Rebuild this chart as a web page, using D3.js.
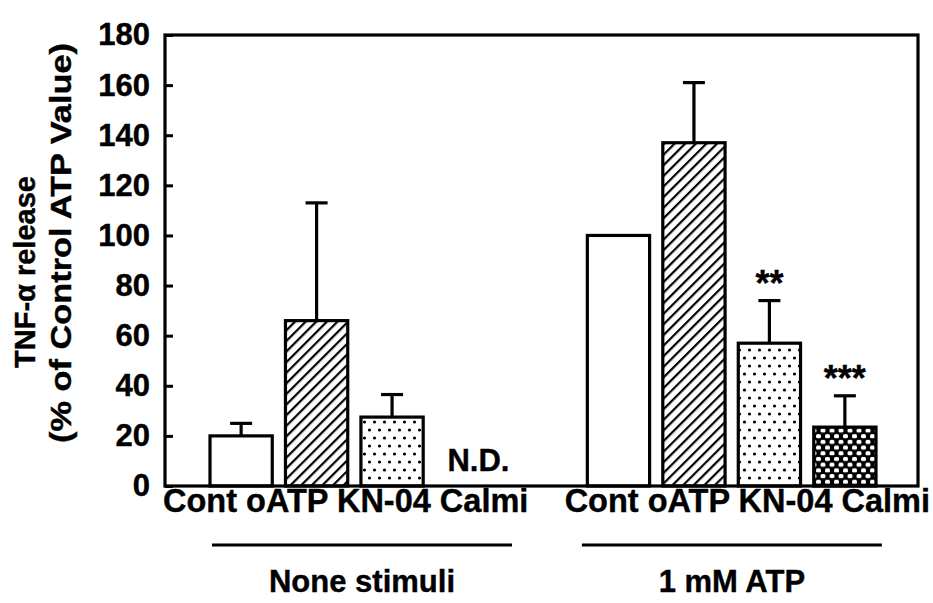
<!DOCTYPE html>
<html>
<head>
<meta charset="utf-8">
<script src="https://cdn.jsdelivr.net/npm/d3@7"></script>
<style>
  html, body { margin: 0; padding: 0; background: #fff; }
  svg { display: block; font-family: "Liberation Sans", Arial, Helvetica, sans-serif; font-weight: bold; }
  svg text { stroke: #000; stroke-width: 0.4px; }
</style>
</head>
<body>
<svg id="chart" width="933" height="603"></svg>
<script>
// Treatments within each condition
const categories = ["Cont", "oATP", "KN-04", "Calmi"];
const groups = ["None stimuli", "1 mM ATP"];

// TNF-α release, % of control ATP value (mean and SD)
const noneMeans = [20, 66, 27.5, null];   // Calmi not detected
const noneSD    = [5, 47, 9, null];
const atpMeans  = [100, 137, 57, 23.5];
const atpSD     = [0, 24, 17, 12.5];
const atpSignif = ["", "", "**", "***"];

const yTicks = [0, 20, 40, 60, 80, 100, 120, 140, 160, 180];

const svg = d3.select("#chart");
const frame = { left: 165, right: 918, top: 35, bottom: 486 };

const y = d3.scaleLinear().domain([0, 180]).range([frame.bottom, frame.top]);

// one slot per bar, with an empty slot separating the two conditions
const nSlots = groups.length * categories.length + groups.length - 1;
const x = d3.scaleBand().domain(d3.range(nSlots)).range([210, 876])
  .paddingInner(0.175).paddingOuter(0);

const bars = [];
categories.forEach((c, i) => {
  bars.push({ group: 0, cat: i, slot: i, mean: noneMeans[i], sd: noneSD[i], sig: "" });
});
categories.forEach((c, i) => {
  bars.push({ group: 1, cat: i, slot: categories.length + 1 + i, mean: atpMeans[i], sd: atpSD[i], sig: atpSignif[i] });
});

// fill patterns
const defs = svg.append("defs");
const hatch = defs.append("pattern").attr("id", "hatch").attr("patternUnits", "userSpaceOnUse")
  .attr("width", 7.5).attr("height", 7.5).attr("patternTransform", "rotate(45)");
hatch.append("rect").attr("width", 7.5).attr("height", 7.5).attr("fill", "#fff");
hatch.append("line").attr("x1", 0).attr("y1", 0).attr("x2", 0).attr("y2", 7.5)
  .attr("stroke", "#000").attr("stroke-width", 4.4);

const dots = defs.append("pattern").attr("id", "dots").attr("patternUnits", "userSpaceOnUse")
  .attr("width", 10).attr("height", 16).attr("x", 212).attr("y", 2);
dots.append("rect").attr("width", 10).attr("height", 16).attr("fill", "#fff");
dots.append("circle").attr("cx", 2.5).attr("cy", 4).attr("r", 1.6).attr("fill", "#000");
dots.append("circle").attr("cx", 7.5).attr("cy", 12).attr("r", 1.6).attr("fill", "#000");

const dense = defs.append("pattern").attr("id", "dense").attr("patternUnits", "userSpaceOnUse")
  .attr("width", 9).attr("height", 11.4).attr("x", 815).attr("y", 0);
dense.append("rect").attr("width", 9).attr("height", 11.4).attr("fill", "#000");
dense.append("rect").attr("x", 1).attr("y", 1).attr("width", 5).attr("height", 4).attr("rx", 1.5).attr("fill", "#fff");
dense.append("rect").attr("x", 5.5).attr("y", 6.7).attr("width", 5).attr("height", 4).attr("rx", 1.5).attr("fill", "#fff");
dense.append("rect").attr("x", -3.5).attr("y", 6.7).attr("width", 5).attr("height", 4).attr("rx", 1.5).attr("fill", "#fff");

const fills = ["#fff", "url(#hatch)", "url(#dots)", "url(#dense)"];

// bars
const drawn = bars.filter(d => d.mean != null);
svg.append("g").selectAll("rect").data(drawn).join("rect")
  .attr("x", d => x(d.slot)).attr("width", x.bandwidth())
  .attr("y", d => y(d.mean)).attr("height", d => y(0) - y(d.mean))
  .attr("fill", d => fills[d.cat])
  .attr("stroke", "#000").attr("stroke-width", 3.2);

// upper error bars
const eb = svg.append("g").attr("stroke", "#000").attr("stroke-width", 3.2);
drawn.filter(d => d.sd > 0).forEach(d => {
  const cx = x(d.slot) + x.bandwidth() / 2;
  eb.append("line").attr("x1", cx).attr("x2", cx).attr("y1", y(d.mean)).attr("y2", y(d.mean + d.sd));
  eb.append("line").attr("x1", cx - 11).attr("x2", cx + 11).attr("y1", y(d.mean + d.sd)).attr("y2", y(d.mean + d.sd));
});

// significance marks
svg.append("g").selectAll("text").data(drawn.filter(d => d.sig)).join("text")
  .attr("x", d => x(d.slot) + x.bandwidth() / 2)
  .attr("y", d => y(d.mean + d.sd) - 5)
  .attr("text-anchor", "middle").attr("font-size", 36)
  .text(d => d.sig);

// not-detected note
bars.filter(d => d.mean == null).forEach(d => {
  svg.append("text").attr("x", x(d.slot) + 11).attr("y", y(0) - 15)
    .attr("font-size", 31).text("N.D.");
});

// frame
svg.append("rect").attr("x", frame.left).attr("y", frame.top)
  .attr("width", frame.right - frame.left).attr("height", frame.bottom - frame.top)
  .attr("fill", "none").attr("stroke", "#000").attr("stroke-width", 3.2);

// y axis with inward ticks
const yAxis = svg.append("g").attr("transform", `translate(${frame.left},0)`)
  .call(d3.axisLeft(y).tickValues(yTicks).tickSize(-8).tickPadding(15));
yAxis.select(".domain").remove();
yAxis.selectAll(".tick line").attr("stroke", "#000").attr("stroke-width", 3);
yAxis.selectAll(".tick text").attr("font-size", 31).attr("font-family", null)
  .attr("font-weight", "bold").attr("fill", "#000");

// y title
svg.append("text").attr("transform", "translate(35,272) rotate(-90)")
  .attr("text-anchor", "middle").attr("font-size", 29).text("TNF-α release");
svg.append("text").attr("transform", "translate(71,243) rotate(-90)")
  .attr("text-anchor", "middle").attr("font-size", 30)
  .attr("textLength", 400).attr("lengthAdjust", "spacingAndGlyphs")
  .text("(% of Control ATP Value)");

// category labels under each condition
const catLine = categories.join(" ");
svg.append("text").attr("x", x(0) - 47).attr("y", 512)
  .attr("font-size", 32.5).text(catLine);
svg.append("text").attr("x", x(nSlots - 1) + x.bandwidth() + 54).attr("y", 512)
  .attr("text-anchor", "end").attr("font-size", 32.5).text(catLine);

// condition brackets and names
const groupMid = [x(0) + 152, x(nSlots - 1) + x.bandwidth() / 2 - 113];
groups.forEach((g, gi) => {
  const mid = groupMid[gi];
  svg.append("line").attr("x1", mid - 150).attr("x2", mid + 150).attr("y1", 545).attr("y2", 545)
    .attr("stroke", "#000").attr("stroke-width", 3);
  svg.append("text").attr("x", mid).attr("y", 592).attr("text-anchor", "middle")
    .attr("font-size", 31).text(g);
});
</script>
</body>
</html>
